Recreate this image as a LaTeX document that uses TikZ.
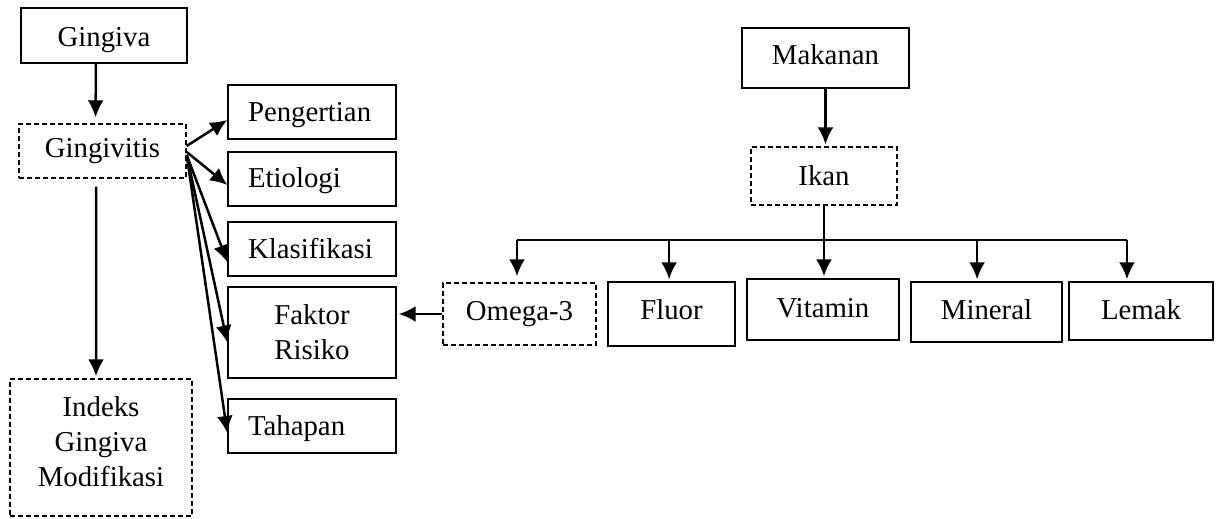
\documentclass[tikz,border=0pt]{standalone}
\usepackage{fontspec}
\setmainfont{Liberation Serif}
\usepackage{tikz}
\usetikzlibrary{arrows.meta}

\begin{document}
\begin{tikzpicture}
	[x=0.5pt, y=-0.5pt,
	font=\fontsize{14.4}{17.5}\selectfont,
	box/.style ={rectangle, draw=black, line width=0.7pt, align=center, inner sep=2pt, text height=10pt, text depth=2pt},
	mbox/.style ={rectangle, draw=black, line width=0.7pt, align=center, inner sep=2pt},
	dbox/.style ={box, dash pattern=on 2.4pt off 1.6pt},
	dmbox/.style ={mbox, dash pattern=on 2.4pt off 1.6pt},
	lbox/.style ={box, text width=64pt, inner xsep=10pt, align=left, minimum height=27pt, text height=11pt},
	line/.style ={draw, line width=1.25pt, -{Latex[length=8.5pt,width=8pt]}, shorten >=1pt}]
	\useasboundingbox (0,0) rectangle (1216,519);
	\draw (104, 35.5) node[box, minimum width=83pt, minimum height=27.5pt, text height=13.5pt] (gingiva) {Gingiva};
	\draw (102.5, 151) node[dbox, minimum width=83.5pt, minimum height=27pt, text height=8pt] (gingivitis) {Gingivitis};
	\draw (312, 112) node[lbox, text height=12pt] (pengertian) {Pengertian};
	\draw (312, 179) node[lbox] (etiologi) {Etiologi};
	\draw (312, 249) node[lbox] (klasifikasi) {Klasifikasi};
	\draw (312, 332.5) node[mbox, minimum width=84pt, minimum height=45.5pt] (faktor) {Faktor\\Risiko};
	\draw (312, 426) node[lbox] (tahapan) {Tahapan};
	\draw (101, 447.5) node[dmbox, minimum width=91pt, minimum height=68.5pt] (indeks) {Indeks\\Gingiva\\Modifikasi\rule[-6pt]{0pt}{0pt}};
	\draw (825.5, 58) node[box, minimum width=83.5pt, minimum height=30pt, text height=9pt] (makanan) {Makanan};
	\draw (824, 176) node[dbox, minimum width=73pt, minimum height=29pt, text height=11pt] (ikan) {Ikan};
	\draw (519.5, 314) node[dbox, minimum width=76.5pt, minimum height=31pt, text height=8pt] (omega) {Omega-3};
	\draw (671.5, 314) node[box, minimum width=63.5pt, minimum height=32pt, text height=7pt] (fluor) {Fluor};
	\draw (823, 309.5) node[box, minimum width=76pt, minimum height=30.5pt, text height=9.5pt] (vitamin) {Vitamin};
	\draw (986.5, 312) node[box, minimum width=75.5pt, minimum height=30pt, text height=9pt] (mineral) {Mineral};
	\draw (1141, 311) node[box, minimum width=72pt, minimum height=29pt] (lemak) {Lemak};
	\coordinate (barL) at (517, 240);
	\coordinate (barR) at (1127, 240);
	\draw[line, shorten >=3pt] ([xshift=-4pt]gingiva.south) -- ([xshift=-3.5pt]gingivitis.north);
	\draw[line, shorten <=4pt] ([xshift=-3.2pt]gingivitis.south) -- ([xshift=-2.5pt]indeks.north);
	\draw[line, shorten >=0pt] ([yshift=2.5pt]gingivitis.east) -- ([yshift=-4pt]pengertian.west);
	\draw[line, shorten >=0pt] ([yshift=-0.5pt]gingivitis.east) -- ([yshift=-3pt]etiologi.west);
	\draw[line, shorten >=0pt] ([yshift=-2pt]gingivitis.east) -- ([yshift=-6.5pt]klasifikasi.west);
	\draw[line, shorten >=0pt] ([yshift=-2pt]gingivitis.east) -- ([yshift=-5pt]faktor.west);
	\draw[line, shorten >=0pt] ([yshift=-2pt]gingivitis.east) -- ([yshift=-3.5pt]tahapan.west);
	\draw[line] (makanan.south) -- (makanan.south |- ikan.north);
	\draw[line] (ikan.south) -- (ikan.south |- vitamin.north);
	\draw[line width=1.25pt] (barL) -- (barR);
	\draw[line, shorten >=3pt] (barL) -- (barL |- omega.north);
	\draw[line] ([xshift=-1.2pt]fluor.north |- barL) -- ([xshift=-1.2pt]fluor.north);
	\draw[line] ([xshift=-4.7pt]mineral.north |- barL) -- ([xshift=-4.7pt]mineral.north);
	\draw[line] (barR) -- (barR |- lemak.north);
	\draw[line] (omega.west) -- (omega.west -| faktor.east);
\end{tikzpicture}
\end{document}
